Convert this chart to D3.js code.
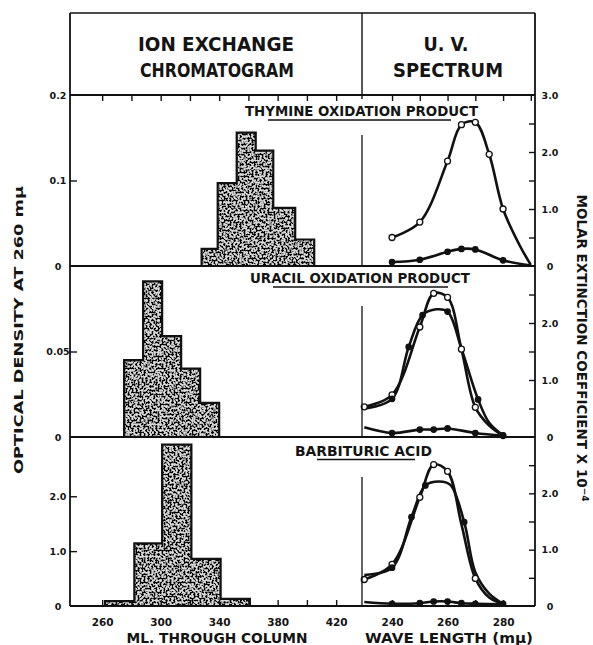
<!DOCTYPE html>
<html><head><meta charset="utf-8">
<script src="https://cdn.jsdelivr.net/npm/d3@7"></script>
<style>
body{margin:0;background:#fff}
text{font-family:"DejaVu Sans",sans-serif;font-weight:bold;fill:#141414}
</style></head>
<body><script>
// ---------- DATA ----------
const mlTickValues = [260, 280, 300, 320, 340, 360, 380, 400, 420];
const mlTickLabels = [260, 300, 340, 380, 420];
const nmTickValues = [240, 250, 260, 270, 280];
const nmTickLabels = [240, 260, 280];

const panelTitles = ["THYMINE OXIDATION PRODUCT", "URACIL OXIDATION PRODUCT", "BARBITURIC ACID"];

// histogram bin edges (ml) and optical density of each bin
const thymineBins = [328, 339, 352, 365, 377, 392, 405];
const thymineOD   = [0.020, 0.097, 0.156, 0.135, 0.068, 0.031];
const uracilBins  = [275, 288, 301, 314, 327, 340];
const uracilOD    = [0.045, 0.091, 0.059, 0.040, 0.020];
const barbBins    = [262, 282, 301, 321, 341, 361];
const barbOD      = [0.09, 1.14, 2.94, 0.86, 0.13];

// left axis ticks per panel
const leftMax    = [0.2, 0.1, 3.08];
const leftTicks  = [[0, 0.1, 0.2], [0, 0.05], [0, 1, 2]];
const leftLabels = [["0", "0.1", "0.2"], ["0", "0.05"], ["0", "1.0", "2.0"]];
// right axis
const rightTicks  = [0, 0.5, 1, 1.5, 2, 2.5, 3];
const rightLabels = [["0", "1.0", "2.0", "3.0"], ["0", "1.0", "2.0"], ["0", "1.0", "2.0"]];

// UV spectra (wavelength mμ, molar extinction x 10^-4)
const thyOpenWl   = [240, 250, 260, 265, 270, 275, 280, 286, 290];
const thyOpen     = [0.50, 0.77, 1.84, 2.48, 2.52, 1.96, 1.00, 0.36, 0.02];
const thyOpenMk   = [240, 250, 260, 265, 270, 275, 280];
const thyFillWl   = [240, 250, 260, 265, 270, 280, 290];
const thyFill     = [0.07, 0.11, 0.25, 0.30, 0.29, 0.10, 0.01];
const thyFillMk   = [240, 250, 260, 265, 270, 280];

const uraOpenWl   = [230, 240, 250, 255, 260, 265, 270, 275, 280];
const uraOpen     = [0.53, 0.74, 1.93, 2.52, 2.45, 1.54, 0.52, 0.20, 0.02];
const uraOpenMk   = [230, 240, 250, 255, 260, 265, 270];
const uraFillWl   = [230, 240, 246, 251, 256, 260, 265, 271, 275, 280];
const uraFill     = [0.50, 0.67, 1.58, 2.14, 2.24, 2.20, 1.55, 0.66, 0.25, 0.03];
const uraFillMk   = [240, 246, 251, 260, 271, 280];
const uraLowWl    = [230, 240, 250, 255, 260, 270, 280];
const uraLow      = [0.17, 0.07, 0.13, 0.13, 0.15, 0.07, 0.02];
const uraLowMk    = [240, 250, 255, 260, 270, 280];

const barOpenWl   = [230, 240, 250, 255, 260, 265, 270, 275, 280];
const barOpen     = [0.47, 0.74, 1.93, 2.51, 2.39, 1.45, 0.49, 0.15, 0.04];
const barOpenMk   = [230, 240, 250, 255, 260, 270];
const barFillWl   = [230, 240, 247, 252, 257, 261, 266, 270, 275, 280];
const barFill     = [0.55, 0.68, 1.58, 2.14, 2.21, 2.15, 1.49, 0.60, 0.22, 0.04];
const barFillMk   = [240, 247, 252, 266, 280];
const barLowWl    = [230, 240, 250, 255, 260, 265, 270, 280];
const barLow      = [0.07, 0.04, 0.05, 0.08, 0.08, 0.05, 0.04, 0.03];
const barLowMk    = [240, 250, 255, 260, 265, 270];

// ---------- BUILD ----------
const zip = (xs, ys) => xs.map((x, i) => [x, ys[i]]);
const panels = [
  {bins: thymineBins, od: thymineOD, spectra: [
    {pts: zip(thyOpenWl, thyOpen), mk: thyOpenMk, open: true},
    {pts: zip(thyFillWl, thyFill), mk: thyFillMk, open: false}]},
  {bins: uracilBins, od: uracilOD, spectra: [
    {pts: zip(uraOpenWl, uraOpen), mk: uraOpenMk, open: true},
    {pts: zip(uraFillWl, uraFill), mk: uraFillMk, open: false},
    {pts: zip(uraLowWl, uraLow), mk: uraLowMk, open: false}]},
  {bins: barbBins, od: barbOD, spectra: [
    {pts: zip(barOpenWl, barOpen), mk: barOpenMk, open: true},
    {pts: zip(barFillWl, barFill), mk: barFillMk, open: false},
    {pts: zip(barLowWl, barLow), mk: barLowMk, open: false}]}
];

const W = 593, H = 645;
const xL = 70, xR = 535, xDiv = 362, headTop = 13;
const tops = [95, 266, 437], bots = [266, 437, 606];
const titleBase = [116, 283, 456], titleX = [361.5, 360, 363.5], titleLen = [233, 220, 137];
const ulines = [[268, 451, 120], [273, 448, 287], [317, 415, 459.5]];

const ml = d3.scaleLinear().domain([238, 440]).range([70, 365.4]);
const nm = d3.scaleLinear().domain([229.5, 291.5]).range([362.9, 535]);

const svg = d3.select("body").append("svg").attr("width", W).attr("height", H);
svg.append("rect").attr("width", W).attr("height", H).attr("fill", "#fff");

const defs = svg.append("defs");
const f = defs.append("filter").attr("id", "grain").attr("filterUnits", "userSpaceOnUse")
  .attr("x", 0).attr("y", 0).attr("width", W).attr("height", H)
  .attr("color-interpolation-filters", "sRGB");
f.append("feTurbulence").attr("type", "fractalNoise").attr("baseFrequency", 0.5)
  .attr("numOctaves", 2).attr("seed", 7).attr("result", "noise");
f.append("feColorMatrix").attr("in", "noise").attr("type", "matrix")
  .attr("values", "0 0 0 0 0  0 0 0 0 0  0 0 0 0 0  12 0 0 0 -5.7").attr("result", "mask");
f.append("feComposite").attr("in", "mask").attr("in2", "SourceGraphic").attr("operator", "in");

const line = (x1, y1, x2, y2, w) => svg.append("line").attr("x1", x1).attr("y1", y1)
  .attr("x2", x2).attr("y2", y2).attr("stroke", "#111").attr("stroke-width", w || 1.6);

panels.forEach((p, i) => {
  const yL = d3.scaleLinear().domain([0, leftMax[i]]).range([bots[i], tops[i]]);
  const yR = d3.scaleLinear().domain([0, 3]).range([bots[i], tops[i]]);
  const g = svg.append("g");

  // histogram
  const hp = p.bins.map((e, k) => [e, p.od[Math.min(k, p.od.length - 1)]]);
  const area = d3.area().curve(d3.curveStepAfter).x(d => ml(d[0])).y0(yL(0)).y1(d => yL(d[1]));
  g.append("path").attr("d", area(hp)).attr("fill", "#d8d8d8");
  g.append("path").attr("d", area(hp)).attr("fill", "#000").attr("filter", "url(#grain)");
  g.append("path").attr("d", area(hp)).attr("fill", "none").attr("stroke", "#111").attr("stroke-width", 2.2);

  // left axis
  const la = d3.axisLeft(yL).tickValues(leftTicks[i]).tickSize(-7)
    .tickFormat((d, k) => leftLabels[i][k]);
  const lg = svg.append("g").attr("transform", `translate(${xL},0)`).call(la);
  lg.select(".domain").remove();
  lg.selectAll("line").attr("stroke", "#111").attr("stroke-width", 1.4)
    .filter(d => d === 0 || d === leftMax[i]).remove();
  lg.selectAll("text").attr("x", -12).attr("text-anchor", "middle").attr("font-size", 9.5)
    .attr("font-family", "DejaVu Sans").attr("font-weight", "bold");

  // right axis
  const ra = d3.axisRight(yR).tickValues(rightTicks).tickSize(-6)
    .tickFormat(d => (rightLabels[i].indexOf(d === 0 ? "0" : d.toFixed(1)) >= 0 ? (d === 0 ? "0" : d.toFixed(1)) : ""));
  const rg = svg.append("g").attr("transform", `translate(${xR},0)`).call(ra);
  rg.select(".domain").remove();
  rg.selectAll("line").attr("stroke", "#111").attr("stroke-width", 1.4)
    .filter(d => d === 0 || d === 3).remove();
  rg.selectAll("text").attr("x", 15).attr("text-anchor", "middle").attr("font-size", 9.5)
    .attr("font-family", "DejaVu Sans").attr("font-weight", "bold");

  // spectra
  const ln = d3.line().curve(d3.curveCatmullRom.alpha(0.5)).x(d => nm(d[0])).y(d => yR(d[1]));
  p.spectra.forEach(s => {
    g.append("path").attr("d", ln(s.pts)).attr("fill", "none").attr("stroke", "#111")
      .attr("stroke-width", 2.6).attr("stroke-linejoin", "round");
  });
  p.spectra.forEach(s => {
    g.selectAll(null).data(s.pts.filter(d => s.mk.indexOf(d[0]) >= 0)).enter().append("circle")
      .attr("cx", d => nm(d[0])).attr("cy", d => yR(d[1]))
      .attr("r", s.open ? 3 : 2.7)
      .attr("fill", s.open ? "#fff" : "#111").attr("stroke", "#111").attr("stroke-width", 1.3);
  });

  // divider inside panel
  line(xDiv, tops[i] + 40, xDiv, bots[i], 1.3);

  // panel title
  svg.append("text").attr("x", titleX[i]).attr("y", titleBase[i]).attr("text-anchor", "middle")
    .attr("font-size", 14).attr("textLength", titleLen[i]).attr("lengthAdjust", "spacingAndGlyphs")
    .text(panelTitles[i]);
  line(ulines[i][0], ulines[i][2], ulines[i][1], ulines[i][2], 1.5);
});

// top ticks on first panel, bottom ticks on last panel
const topAx = svg.append("g").attr("transform", `translate(0,${tops[0]})`)
  .call(d3.axisTop(ml).tickValues(mlTickValues).tickSize(-6).tickFormat(""));
const topAx2 = svg.append("g").attr("transform", `translate(0,${tops[0]})`)
  .call(d3.axisTop(nm).tickValues(nmTickValues.concat([290])).tickSize(-6).tickFormat(""));
const botAx = svg.append("g").attr("transform", `translate(0,${bots[2]})`)
  .call(d3.axisBottom(ml).tickValues(mlTickValues).tickSize(-6)
    .tickFormat(d => mlTickLabels.indexOf(d) >= 0 ? d : ""));
const botAx2 = svg.append("g").attr("transform", `translate(0,${bots[2]})`)
  .call(d3.axisBottom(nm).tickValues(nmTickValues).tickSize(-6)
    .tickFormat(d => nmTickLabels.indexOf(d) >= 0 ? d : ""));
[topAx, topAx2, botAx, botAx2].forEach(a => {
  a.select(".domain").remove();
  a.selectAll("line").attr("stroke", "#111").attr("stroke-width", 1.4);
  a.selectAll("text").attr("y", 13).attr("font-size", 10.5)
    .attr("font-family", "DejaVu Sans").attr("font-weight", "bold");
});

// frame
line(xL, headTop, xR, headTop, 1.6);
line(xL, headTop, xL, bots[2], 1.8);
line(xR, headTop, xR, bots[2], 1.8);
tops.concat([bots[2]]).forEach(y => line(xL, y, xR, y, 1.8));
line(xDiv, headTop, xDiv, tops[0] + 4, 1.4);

// header texts
const htxt = (t, x, y, len) => svg.append("text").attr("x", x).attr("y", y).attr("text-anchor", "middle")
  .attr("font-size", 19).attr("textLength", len).attr("lengthAdjust", "spacingAndGlyphs").text(t);
htxt("ION EXCHANGE", 216, 51, 156);
htxt("CHROMATOGRAM", 217, 77, 154);
htxt("U. V.", 446, 51, 45);
htxt("SPECTRUM", 448, 77, 110);

// axis titles
svg.append("text").attr("x", 217).attr("y", 643).attr("text-anchor", "middle").attr("font-size", 14)
  .attr("textLength", 181).attr("lengthAdjust", "spacingAndGlyphs").text("ML. THROUGH COLUMN");
svg.append("text").attr("x", 449).attr("y", 643).attr("text-anchor", "middle").attr("font-size", 14)
  .attr("textLength", 168).attr("lengthAdjust", "spacingAndGlyphs").text("WAVE LENGTH (mμ)");

svg.append("text").attr("transform", "translate(23,330) rotate(-90)").attr("text-anchor", "middle")
  .attr("font-size", 13).attr("textLength", 288).attr("lengthAdjust", "spacingAndGlyphs")
  .text("OPTICAL DENSITY AT 260 mμ");

const rt = svg.append("text").attr("transform", "translate(577,348) rotate(90)").attr("text-anchor", "middle")
  .attr("font-size", 13.5);
rt.append("tspan").text("MOLAR EXTINCTION COEFFICIENT X 10");
rt.append("tspan").attr("font-size", 9).attr("dy", -5).text("−4");
</script></body></html>
